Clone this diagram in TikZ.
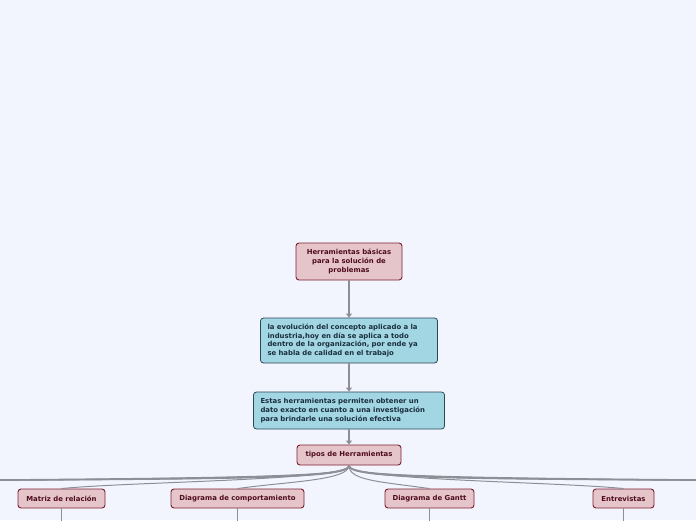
\documentclass[tikz,border=0pt]{standalone}
\usepackage{fontspec}
\setmainfont{DejaVu Sans}
\usetikzlibrary{arrows.meta}
\definecolor{bg}{HTML}{F3F5FE}
\definecolor{pinkfill}{HTML}{E6C5CA}
\definecolor{pinkdraw}{HTML}{7A1E30}
\definecolor{pinktext}{HTML}{4E0C1A}
\definecolor{bluefill}{HTML}{A2D6E3}
\definecolor{bluedraw}{HTML}{2C4558}
\definecolor{bluetext}{HTML}{1B2E3E}
\definecolor{linegray}{HTML}{8E8E96}
\tikzset{
  pinkbox/.style={draw=pinkdraw, fill=pinkfill, text=pinktext, line width=0.9pt, rounded corners=3pt,
    font=\fontsize{6.9}{8.6}\selectfont\bfseries, align=center, inner sep=2pt},
  bluebox/.style={draw=bluedraw, fill=bluefill, text=bluetext, line width=0.8pt, rounded corners=3pt,
    font=\fontsize{6.9}{8.8}\selectfont\bfseries, align=left, inner xsep=7pt, inner ysep=3pt},
  conn/.style={draw=linegray, line width=1.3pt},
  arr/.style={conn, -{Triangle[width=6pt,length=4pt]}},
}
\begin{document}
\begin{tikzpicture}[x=1pt,y=-1pt]
\fill[bg] (0,0) rectangle (696,520);
\useasboundingbox (0,0) rectangle (696,520);
\begin{scope}
\clip (0,0) rectangle (696,520);
\node[pinkbox, minimum width=106pt, minimum height=37pt] (root) at (349,261.5) {Herramientas básicas\\para la solución de\\problemas};
\node[bluebox, text width=163pt, minimum height=45pt] (b1) at (349,340.5) {la evolución del concepto aplicado a la\\industria,hoy en día se aplica a todo\\dentro de la organización, por ende ya\\se habla de calidad en el trabajo};
\node[bluebox, text width=177pt, minimum height=37pt] (b2) at (349,410.5) {Estas herramientas permiten obtener un\\dato exacto en cuanto a una investigación\\para brindarle una solución efectiva};
\node[pinkbox, minimum width=104pt, minimum height=20pt] (tp) at (349,455) {tipos de Herramientas};
\node[pinkbox, minimum width=87pt, minimum height=19pt] (m1) at (61.5,498.5) {Matriz de relación};
\node[pinkbox, minimum width=133pt, minimum height=19pt] (m2) at (237.5,498.5) {Diagrama de comportamiento};
\node[pinkbox, minimum width=89pt, minimum height=19pt] (m3) at (429.5,498.5) {Diagrama de Gantt};
\node[pinkbox, minimum width=61pt, minimum height=19pt] (m4) at (623.5,498.5) {Entrevistas};

\draw[arr] (root) -- (b1);
\draw[arr] (b1) -- (b2);
\draw[arr] (b2) -- (tp);

\coordinate (cl) at (250,479);
\coordinate (cr) at (448,479);
\coordinate (l1) at (-140,481);
\coordinate (l2) at (-330,482);
\coordinate (l3) at (-560,483);
\coordinate (l4) at (-820,484);
\coordinate (r1) at (840,481);
\coordinate (r2) at (1030,482);
\coordinate (r3) at (1260,483);
\coordinate (r4) at (1520,484);
\foreach \t in {l1,l2,l3,l4}
  \draw[conn, line width=1.1pt] (tp.south) .. controls +(0,14) and (cl) .. (\t);
\foreach \t in {r1,r2,r3,r4}
  \draw[conn, line width=1.1pt] (tp.south) .. controls +(0,14) and (cr) .. (\t);
\draw[conn, line width=1pt] (tp.south) .. controls +(0,15) and +(70,-7) .. (m1.north);
\draw[conn, line width=1pt] (tp.south) .. controls +(0,15) and +(50,-7) .. (m2.north);
\draw[conn, line width=1pt] (tp.south) .. controls +(0,15) and +(-50,-7) .. (m3.north);
\draw[conn, line width=1pt] (tp.south) .. controls +(0,15) and +(-70,-7) .. (m4.north);

\coordinate (g1) at (61.5,530);
\coordinate (g2) at (237.5,530);
\coordinate (g3) at (429.5,530);
\coordinate (g4) at (623.5,530);
\draw[conn] (m1.south) -- (g1);
\draw[conn] (m2.south) -- (g2);
\draw[conn] (m3.south) -- (g3);
\draw[conn] (m4.south) -- (g4);
\end{scope}
\end{tikzpicture}
\end{document}
